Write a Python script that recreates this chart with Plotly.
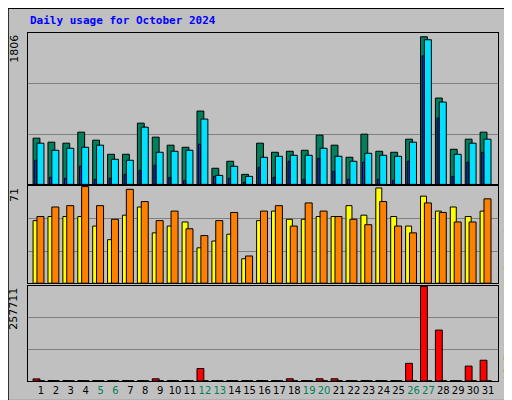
import plotly.graph_objects as go

days = list(range(1, 32))
weekend = [5, 6, 12, 13, 19, 20, 26, 27]
hits = [554, 506, 494, 626, 530, 361, 361, 734, 566, 470, 445, 879, 193, 277, 120, 494,
        385, 397, 409, 590, 470, 325, 602, 397, 385, 542, 1770, 1035, 421, 542, 626]
files = [494, 409, 433, 445, 470, 301, 289, 686, 385, 397, 409, 783, 108, 217, 96, 325,
         337, 349, 349, 433, 337, 277, 373, 349, 337, 506, 1734, 987, 361, 494, 542]
pages = [289, 84, 72, 217, 60, 72, 120, 169, 229, 84, 48, 482, 96, 72, 24, 205,
         84, 277, 60, 313, 157, 60, 265, 60, 48, 277, 1541, 795, 96, 265, 385]
visits = [46, 49, 49, 49, 42, 32, 50, 56, 37, 42, 45, 26, 31, 36, 18, 46,
          53, 47, 47, 49, 49, 57, 50, 70, 49, 42, 64, 53, 56, 49, 53]
sites = [49, 56, 57, 71, 57, 47, 69, 60, 46, 53, 40, 35, 46, 52, 20, 53,
         57, 42, 59, 53, 49, 47, 43, 60, 42, 37, 59, 52, 45, 45, 62]
kbf = [5700, 1200, 1000, 1000, 1000, 1000, 1000, 1000, 6000, 1000, 1200, 34000, 1200, 1200, 1000, 1200,
       1000, 6000, 1000, 6000, 6000, 1000, 1200, 1000, 1000, 48100, 257711, 138800, 1000, 40600, 56600]
kbin = [600] * 31
max_top, max_mid, max_bot = 1806, 71, 257711

fig = go.Figure()
ln = dict(color="black", width=1)
def bar(y, color, off, w, xa, ya):
    fig.add_trace(go.Bar(x=days, y=y, marker=dict(color=color, line=ln), offset=off, width=w,
                         xaxis=xa, yaxis=ya, showlegend=False, hoverinfo="skip"))

bar(hits, "#00805C", -0.53, 0.46, "x", "y")
bar(files, "#00E0FF", -0.27, 0.47, "x", "y")
bar(pages, "#0040FF", -0.42, 0.13, "x", "y")
bar(visits, "#FFFF00", -0.53, 0.4, "x2", "y2")
bar(sites, "#FF8000", -0.27, 0.47, "x2", "y2")
bar(kbf, "#FF0000", -0.53, 0.46, "x3", "y3")
bar(kbin, "#0080FF", -0.07, 0.3, "x3", "y3")

xr = [0.13, 31.67]
ticktext = [f"<span style='color:#00805C'>{d}</span>" if d in weekend else str(d) for d in days]
common_x = dict(range=xr, showgrid=False, zeroline=False, showline=True, mirror=True,
                linecolor="black", linewidth=1, fixedrange=True)
fig.update_layout(
    xaxis=dict(**common_x, domain=[0, 1], anchor="y", showticklabels=False, ticks=""),
    xaxis2=dict(**common_x, domain=[0, 1], anchor="y2", showticklabels=False, ticks=""),
    xaxis3=dict(**common_x, domain=[0, 1], anchor="y3", tickvals=days, ticktext=ticktext, ticks="",
                tickangle=0, tickfont=dict(family="DejaVu Sans", size=10, color="black")),
)
for name, dom, mx in [("yaxis", [0.565, 1], max_top), ("yaxis2", [0.281, 0.56], max_mid), ("yaxis3", [0, 0.273], max_bot)]:
    fig.layout[name] = dict(domain=dom, range=[0, mx * 1.005], tickvals=[mx / 3, 2 * mx / 3],
                            showticklabels=False, ticks="", gridcolor="#808080", gridwidth=1,
                            zeroline=False, showline=True, mirror=True, linecolor="black",
                            anchor={"yaxis": "x", "yaxis2": "x2", "yaxis3": "x3"}[name], fixedrange=True)

f = "DejaVu Sans Mono"
xr_lab = (500 - 20) / 470
ann = [
    dict(text="<b>Daily usage for October 2024</b>", x=-0.0, y=1.035, xanchor="left", yanchor="middle",
         font=dict(family=f, size=11, color="#0000FF")),
    dict(text="1806", x=-0.012, y=1.0, xanchor="right", yanchor="top", textangle=-90, font=dict(family="DejaVu Sans", size=11, color="black")),
    dict(text="71", x=-0.012, y=0.56, xanchor="right", yanchor="top", textangle=-90, font=dict(family="DejaVu Sans", size=11, color="black")),
    dict(text="257711", x=-0.012, y=0.273, xanchor="right", yanchor="top", textangle=-90, font=dict(family="DejaVu Sans", size=11, color="black")),
    dict(text="<span style='color:#00E0FF'>Pages</span> / <span style='color:#0080FF'>Files</span> / <span style='color:#00805C'>Hits</span>",
         x=xr_lab, y=1.0, xanchor="center", yanchor="top", textangle=-90, font=dict(family=f, size=10, color="black")),
    dict(text="<span style='color:#FF8000'>Sites</span> / <span style='color:#FFFF00'>Visits</span>",
         x=xr_lab, y=0.56, xanchor="center", yanchor="top", textangle=-90, font=dict(family=f, size=10, color="black")),
    dict(text="<span style='color:#FF0000'>kB F</span> / <span style='color:#0080FF'>kB In</span> / <span style='color:#00C000'>kB Out</span>",
         x=xr_lab, y=0.0, xanchor="center", yanchor="bottom", textangle=-90, font=dict(family=f, size=10, color="black")),
]
for a in ann:
    a.update(xref="paper", yref="paper", showarrow=False)

X0, X1 = (0 - 20) / 470, (511 - 20) / 470
Y0, Y1 = (377 - 399) / 352, (377 - 0) / 352
shapes = [
    dict(type="rect", x0=(507 - 20) / 470, x1=X1, y0=Y0, y1=Y1, fillcolor="#808080", line=dict(width=0)),
    dict(type="rect", x0=X0, x1=X1, y0=Y0, y1=(377 - 396) / 352, fillcolor="#808080", line=dict(width=0)),
    dict(type="rect", x0=X0, x1=X1, y0=Y0, y1=Y1, line=dict(color="black", width=1.5)),
]
for s in shapes:
    s.update(xref="paper", yref="paper", layer="below")

fig.update_layout(width=512, height=400, margin=dict(l=20, r=22, t=25, b=23),
                  paper_bgcolor="#C0C0C0", plot_bgcolor="#C0C0C0", barmode="overlay",
                  annotations=ann, shapes=shapes)
fig.write_html("out.html", config={"displayModeBar": False})
